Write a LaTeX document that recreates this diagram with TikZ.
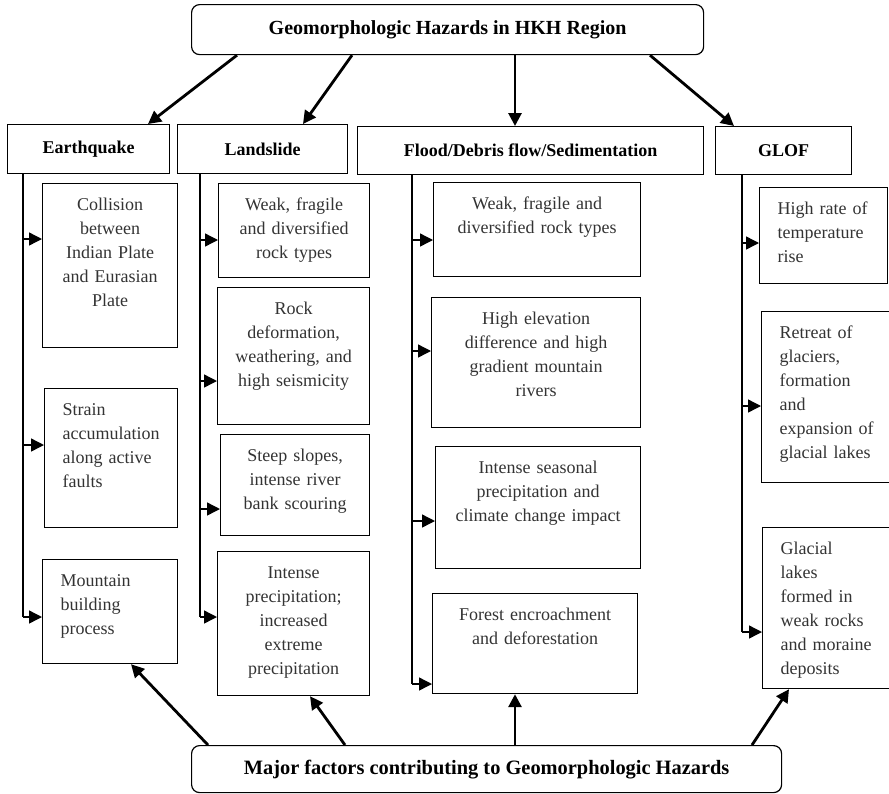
\documentclass[tikz,border=0pt]{standalone}
\usepackage{fontspec}
\setmainfont{Liberation Serif}
\usetikzlibrary{arrows.meta}

\begin{document}
\begin{tikzpicture}[x=0.5pt,y=-0.5pt,
    title/.style={draw,rounded corners=4pt,line width=0.6pt,anchor=north west,inner sep=0pt,font=\fontsize{10}{12}\selectfont\bfseries},
    hazard/.style={draw,line width=0.6pt,anchor=north west,inner sep=0pt,minimum height=24.5pt,font=\fontsize{9}{11}\selectfont\bfseries},
    cause/.style={draw,line width=0.6pt,anchor=north west,inner xsep=4pt,inner ysep=3pt,text height=10.5pt,align=center,text=black!80,font=\fontsize{9}{12}\selectfont},
    lcause/.style={cause,inner xsep=9pt,align=left},
    bigarrow/.style={line width=1.4pt,-{Triangle[length=6.5pt,width=6.5pt]}},
    feed/.style={line width=0.7pt,-{Triangle[length=6.5pt,width=6.5pt]}},
    bus/.style={line width=0.7pt}]
  \useasboundingbox (0,0) rectangle (889,793);

  \node[title,minimum width=256pt,minimum height=25pt] (top) at (191,4) {Geomorphologic Hazards in HKH Region};
  \node[title,minimum width=295pt,minimum height=23.5pt,font=\fontsize{10.2}{12}\selectfont\bfseries] (factors) at (191,745) {Major factors contributing to Geomorphologic Hazards};

  \node[hazard,minimum width=81pt] (eq) at (7,124) {Earthquake};
  \node[hazard,minimum width=85pt] (ls) at (177,124) {Landslide};
  \node[hazard,minimum width=173pt,minimum height=24pt] (fl) at (357,126) {Flood/Debris flow/Sedimentation};
  \node[hazard,minimum width=68pt,minimum height=24pt] (gl) at (715,126) {GLOF};

  \node[cause,text width=59.5pt,text depth=65.5pt] (e1) at (42,183) {Collision\\between\\Indian Plate\\and Eurasian\\Plate};
  \node[lcause,text width=48.5pt,text depth=53pt] (e2) at (44,388) {Strain\\accumulation\\along active\\faults};
  \node[lcause,text width=49.5pt,text depth=35.5pt] (e3) at (42,559) {Mountain\\building\\process};

  \node[cause,text width=67.5pt,text depth=30.5pt] (l1) at (218,183) {Weak, fragile\\and diversified\\rock types};
  \node[cause,text width=68pt,text depth=52pt] (l2) at (217,287) {Rock\\deformation,\\weathering, and\\high seismicity};
  \node[cause,text width=66.5pt,text depth=34pt] (l3) at (220,434) {Steep slopes,\\intense river\\bank scouring};
  \node[cause,text width=68pt,text depth=55.5pt] (l4) at (217,551) {Intense\\precipitation;\\increased\\extreme\\precipitation};

  \node[cause,text width=95.5pt,text depth=30.5pt] (f1) at (433,182) {Weak, fragile and\\diversified rock types};
  \node[cause,text width=96.5pt,text depth=48.5pt] (f2) at (431,297) {High elevation\\difference and high\\gradient mountain\\rivers};
  \node[cause,text width=94.5pt,text depth=44.5pt] (f3) at (435,446) {Intense seasonal\\precipitation and\\climate change impact};
  \node[cause,text width=94.5pt,text depth=33.5pt] (f4) at (432,593) {Forest encroachment\\and deforestation};

  \node[lcause,text width=46pt,text depth=31.5pt] (g1) at (759,187) {High rate of\\temperature\\rise};
  \node[lcause,text width=52pt,text depth=69pt] (g2) at (761,311) {Retreat of\\glaciers,\\formation\\and\\expansion of\\glacial lakes};
  \node[lcause,text width=52pt,text depth=64pt] (g3) at (762,527) {Glacial\\lakes\\formed in\\weak rocks\\and moraine\\deposits};

  \foreach \h/\a/\b in {eq/237/148, ls/352/303, fl/515/515, gl/650/734}
    \draw[bigarrow] (top.south -| \a,0) -- (\h.north -| \b,0);
  \foreach \c/\a/\b in {e3/208/131, l4/345/310, f4/515/515, g3/752/789}
    \draw[bigarrow] (factors.north -| \a,0) -- (\c.south -| \b,0);

  \coordinate (eqbus) at (eq.south -| 23,0);
  \coordinate (lsbus) at (ls.south -| 200,0);
  \coordinate (flbus) at (fl.south -| 412,0);
  \coordinate (glbus) at (gl.south -| 742,0);

  \draw[bus] (eqbus) -- (eqbus |- 0,617);
  \draw[bus] (lsbus) -- (lsbus |- 0,617);
  \draw[bus] (flbus) -- (flbus |- 0,684);
  \draw[bus] (glbus) -- (glbus |- 0,632);

  \foreach \c/\y in {e1/239, e2/445, e3/617}
    \draw[feed] (eqbus |- 0,\y) -- (\c.west |- 0,\y);
  \foreach \c/\y in {l1/240, l2/381, l3/509, l4/617}
    \draw[feed] (lsbus |- 0,\y) -- (\c.west |- 0,\y);
  \foreach \c/\y in {f1/240, f2/351, f3/521, f4/684}
    \draw[feed] (flbus |- 0,\y) -- (\c.west |- 0,\y);
  \foreach \c/\y in {g1/243, g2/406, g3/632}
    \draw[feed] (glbus |- 0,\y) -- (\c.west |- 0,\y);
\end{tikzpicture}
\end{document}
